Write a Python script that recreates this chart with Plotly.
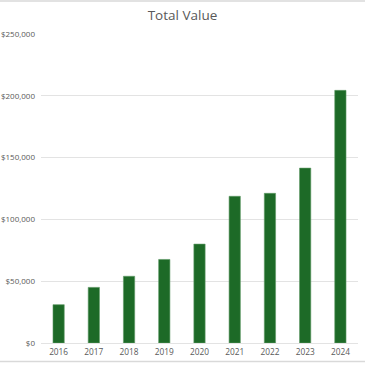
import plotly.graph_objects as go

years = ["2016", "2017", "2018", "2019", "2020", "2021", "2022", "2023", "2024"]
values = [31000, 45000, 54000, 67600, 80000, 118700, 121100, 141500, 204400]
y_ticks = [0, 50000, 100000, 150000, 200000, 250000]
y_tick_labels = ["$0", "$50,000", "$100,000", "$150,000", "$200,000", "$250,000"]

fig = go.Figure(go.Bar(
    x=years, y=values,
    marker=dict(color="#1d6a27", line=dict(color="#5f9a66", width=0.6)),
))
fig.update_layout(
    width=365, height=365,
    margin=dict(l=41, r=7, t=33.5, b=21.5, autoexpand=False),
    paper_bgcolor="white", plot_bgcolor="white",
    bargap=0.68,
    showlegend=False,
    font=dict(family="Open Sans", color="#595959", size=9),
    title=dict(text="Total Value", x=0.5, xanchor="center", y=0.958, yanchor="middle",
               font=dict(size=13.5, color="#595959", family="Open Sans")),
    xaxis=dict(showgrid=False, showline=False, ticks="", tickfont=dict(size=8.3), automargin=False,
               ticklabelstandoff=3),
    yaxis=dict(range=[0, 250000], tickvals=y_ticks, ticktext=y_tick_labels,
               showgrid=True, gridcolor="#e3e3e3", gridwidth=1, zeroline=True,
               zerolinecolor="#e3e3e3", zerolinewidth=1, showline=False,
               tickfont=dict(size=8), ticklabelstandoff=5, automargin=False),
)
fig.add_shape(type="line", xref="paper", yref="paper", x0=-0.2, x1=1.1, y0=-0.0597, y1=-0.0597,
              line=dict(color="#d9d9d9", width=1.5))
fig.add_shape(type="line", xref="paper", yref="paper", x0=-0.2, x1=1.1, y0=1.107, y1=1.107,
              line=dict(color="#d9d9d9", width=1.5))
fig.write_html("out.html", config={"displayModeBar": False},
               post_script="document.body.style.margin='0';document.body.style.overflow='hidden';")
